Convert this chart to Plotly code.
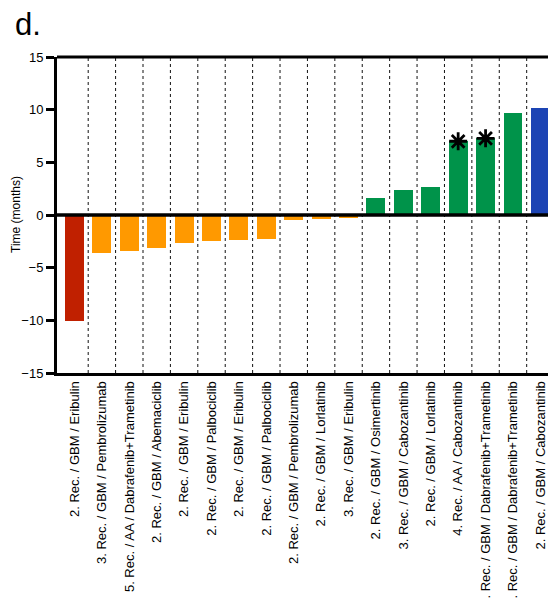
import plotly.graph_objects as go

labels = [
    "2. Rec. / GBM / Eribulin",
    "3. Rec. / GBM / Pembrolizumab",
    "5. Rec. / AA / Dabrafenib+Trametinib",
    "2. Rec. / GBM / Abemaciclib",
    "2. Rec. / GBM / Eribulin",
    "2. Rec. / GBM / Palbociclib",
    "2. Rec. / GBM / Eribulin",
    "2. Rec. / GBM / Palbociclib",
    "2. Rec. / GBM / Pembrolizumab",
    "2. Rec. / GBM / Lorlatinib",
    "3. Rec. / GBM / Eribulin",
    "2. Rec. / GBM / Osimertinib",
    "3. Rec. / GBM / Cabozantinib",
    "2. Rec. / GBM / Lorlatinib",
    "4. Rec. / AA / Cabozantinib",
    "4. Rec. / GBM / Dabrafenib+Trametinib",
    "1. Rec. / GBM / Dabrafenib+Trametinib",
    "2. Rec. / GBM / Cabozantinib",
]
values = [-10.1, -3.58, -3.39, -3.1, -2.63, -2.44, -2.34, -2.25, -0.45,
          -0.37, -0.28, 1.59, 2.35, 2.63, 7.0, 7.28, 9.66, 10.13]
groups = ["red"] + ["orange"] * 10 + ["green"] * 6 + ["blue"]
color_map = {"red": "#C02000", "orange": "#FF9900", "green": "#00934A", "blue": "#1C44B4"}
starred = [14, 15]
y_ticks = [-15, -10, -5, 0, 5, 10, 15]

xs = list(range(len(labels)))
FONT = "Arial, Liberation Sans, sans-serif"

fig = go.Figure()
fig.add_trace(go.Bar(
    x=xs, y=values, width=0.69,
    marker=dict(color=[color_map[g] for g in groups], line=dict(width=0)),
    showlegend=False, hoverinfo="skip",
))
fig.add_trace(go.Scatter(
    x=[xs[i] for i in starred], y=[values[i] for i in starred],
    mode="markers",
    marker=dict(symbol="asterisk-open", size=15, color="black",
                line=dict(color="black", width=2.8)),
    showlegend=False, hoverinfo="skip",
))

shapes = []
for i in range(len(labels) - 1):
    shapes.append(dict(type="line", xref="x", yref="y", x0=i + 0.5, x1=i + 0.5,
                       y0=-15, y1=15, layer="below",
                       line=dict(color="#111111", width=1, dash="dot")))
shapes.append(dict(type="line", xref="paper", yref="y", x0=0, x1=1, y0=0, y1=0,
                   layer="above", line=dict(color="black", width=3.5)))
shapes.append(dict(type="line", xref="paper", yref="paper", x0=0, x1=1, y0=1, y1=1,
                   layer="above", line=dict(color="black", width=3)))

# page body has an 8px margin; figure is sized so the plot lands where the reference has it
fig.update_layout(
    width=548, height=590,
    margin=dict(l=49, r=0, t=49, b=225),
    plot_bgcolor="white", paper_bgcolor="white",
    font=dict(family=FONT, color="black"),
    bargap=0,
    shapes=shapes,
    xaxis=dict(
        range=[-0.638, 17.57], tickmode="array", tickvals=xs, ticktext=labels,
        tickangle=-90, tickfont=dict(size=13, family=FONT, color="black"),
        showgrid=False, zeroline=False, showline=True, linecolor="black",
        linewidth=3, ticks="", ticklen=0, automargin=False,
    ),
    yaxis=dict(
        range=[-15, 15], tickmode="array", tickvals=y_ticks,
        tickfont=dict(size=13, family=FONT, color="black"),
        showgrid=False, zeroline=False, showline=True, linecolor="black",
        linewidth=3, ticks="outside", ticklen=8, tickwidth=2.5, tickcolor="black",
        automargin=False,
    ),
    annotations=[
        dict(text="d.", xref="paper", yref="paper", x=-44 / 499, y=1 + 52 / 316,
             xanchor="left", yanchor="top", showarrow=False,
             font=dict(size=31, family=FONT, color="black")),
        dict(text="Time (months)", xref="paper", yref="paper", x=-41 / 499, y=0.5,
             xanchor="center", yanchor="middle", textangle=-90, showarrow=False,
             font=dict(size=12, family=FONT, color="black")),
    ],
)

fig.write_html("out.html")
